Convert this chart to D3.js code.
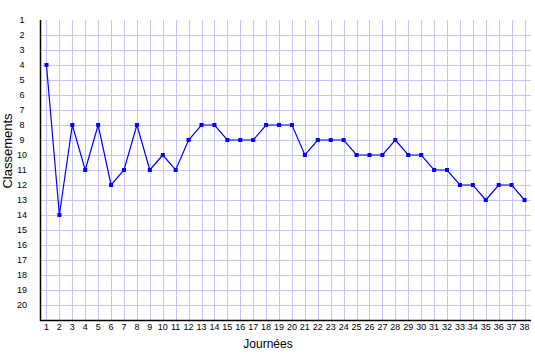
<!DOCTYPE html>
<html>
<head>
<meta charset="utf-8">
<script src="https://cdn.jsdelivr.net/npm/d3@7"></script>
<style>
  body { margin: 0; background: #fff; }
  svg { display: block; font-family: "Liberation Sans", Arial, sans-serif; }
</style>
</head>
<body>
<svg id="chart" width="535" height="360"></svg>
<script>
// classement par journée
var journees = d3.range(1, 39);
var classements = [4, 14, 8, 11, 8, 12, 11, 8, 11, 10,
                   11, 9, 8, 8, 9, 9, 9, 8, 8, 8,
                   10, 9, 9, 9, 10, 10, 10, 9, 10, 10,
                   11, 11, 12, 12, 13, 12, 12, 13];
var rangs = d3.range(1, 21);

var svg = d3.select("#chart");
var plotLeft = 40, plotRight = 531, plotTop = 20, plotBottom = 320;

var x = d3.scaleLinear().domain([0.5, 38.5]).range([plotLeft, plotRight]);
var y = d3.scaleLinear().domain([1, 21]).range([plotTop, plotBottom]);

// grille
svg.append("g").selectAll("line")
  .data(journees).join("line")
  .attr("x1", d => Math.round(x(d)) + 0.5).attr("x2", d => Math.round(x(d)) + 0.5)
  .attr("y1", plotTop).attr("y2", plotBottom)
  .attr("stroke", "#c4c4ff").attr("stroke-width", 1);

svg.append("g").selectAll("line")
  .data(rangs.slice(1)).join("line")
  .attr("x1", plotLeft).attr("x2", plotRight)
  .attr("y1", d => Math.round(y(d)) + 0.5).attr("y2", d => Math.round(y(d)) + 0.5)
  .attr("stroke", "#c4c4ff").attr("stroke-width", 1);

// axes
svg.append("line")
  .attr("x1", plotLeft + 0.5).attr("x2", plotLeft + 0.5)
  .attr("y1", plotTop).attr("y2", plotBottom + 1)
  .attr("stroke", "#000").attr("stroke-width", 1.5);
svg.append("line")
  .attr("x1", plotLeft).attr("x2", plotRight)
  .attr("y1", plotBottom + 0.5).attr("y2", plotBottom + 0.5)
  .attr("stroke", "#000").attr("stroke-width", 1.5);

svg.append("g").selectAll("text")
  .data(rangs).join("text")
  .attr("x", 22).attr("y", d => y(d) + 3)
  .attr("text-anchor", "middle")
  .attr("font-size", 9)
  .text(d => d);

svg.append("g").selectAll("text")
  .data(journees).join("text")
  .attr("x", d => x(d)).attr("y", 330)
  .attr("text-anchor", "middle")
  .attr("font-size", 9)
  .text(d => d);

// titres
svg.append("text")
  .attr("x", 268).attr("y", 348)
  .attr("text-anchor", "middle")
  .attr("font-size", 12)
  .text("Journées");
svg.append("text")
  .attr("transform", "translate(12,151) rotate(-90)")
  .attr("text-anchor", "middle")
  .attr("font-size", 13)
  .text("Classements");

// courbe
var line = d3.line()
  .x((d, i) => x(journees[i]))
  .y(d => y(d));

svg.append("path")
  .datum(classements)
  .attr("d", line)
  .attr("fill", "none")
  .attr("stroke", "#0000ff")
  .attr("stroke-width", 1.2);

svg.append("g").selectAll("rect")
  .data(classements).join("rect")
  .attr("x", (d, i) => x(journees[i]) - 2)
  .attr("y", d => y(d) - 2)
  .attr("width", 4).attr("height", 4)
  .attr("fill", "#0000ff");
</script>
</body>
</html>
